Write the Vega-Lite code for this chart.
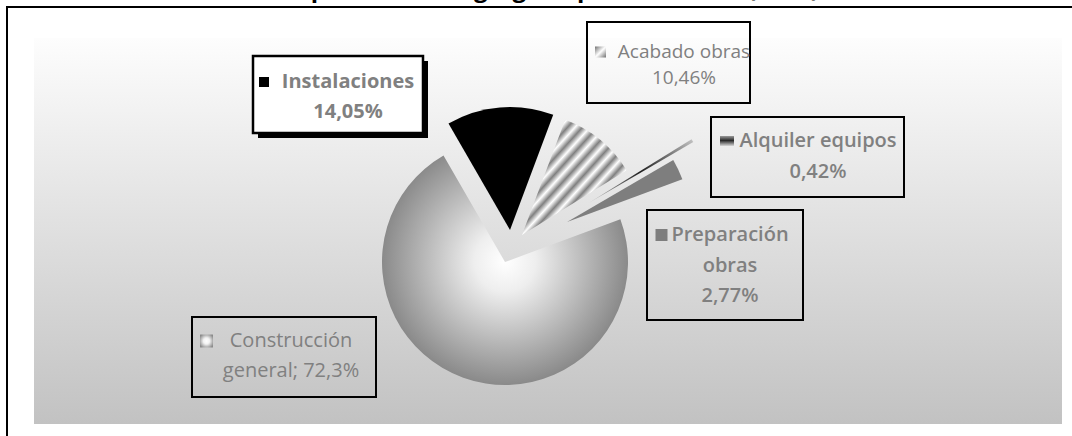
{
  "$schema": "https://vega.github.io/schema/vega-lite/v6.json",
  "width": 1065,
  "height": 429,
  "autosize": {"type": "none"},
  "padding": {"left": 7, "top": 7, "right": 0, "bottom": 0},
  "background": "white",
  "config": {
    "view": {"stroke": null, "fill": "white"},
    "font": "Open Sans"
  },
  "data": {
    "values": [
      {"sector": "Instalaciones", "value": 14.05, "label": "Instalaciones\n14,05%"},
      {"sector": "Acabado obras", "value": 10.46, "label": "Acabado obras\n10,46%"},
      {"sector": "Alquiler equipos", "value": 0.42, "label": "Alquiler equipos\n0,42%"},
      {"sector": "Preparación obras", "value": 2.77, "label": "Preparación\nobras\n2,77%"},
      {"sector": "Construcción general", "value": 72.3, "label": "Construcción\ngeneral; 72,3%"}
    ]
  },
  "transform": [
    {"stack": "value", "groupby": [], "as": ["v0", "v1"]}
  ],
  "layer": [
    {
      "data": {"values": [{}]},
      "mark": {
        "type": "rect", "x": 27, "x2": 1055, "y": 31, "y2": 417,
        "fill": {"gradient": "linear", "x1": 0, "y1": 0, "x2": 0, "y2": 1,
          "stops": [{"offset": 0, "color": "#fdfdfd"}, {"offset": 1, "color": "#c2c2c2"}]}
      },
      "encoding": {}
    },
    {
      "data": {"values": [{}]},
      "mark": {"type": "rect", "x": -1, "x2": 1, "y": -1, "y2": 429, "fill": "black", "stroke": null},
      "encoding": {}
    },
    {
      "data": {"values": [{}]},
      "mark": {"type": "rect", "x": -1, "x2": 1065, "y": -1, "y2": 1, "fill": "black", "stroke": null},
      "encoding": {}
    },
    {
      "data": {"values": [{}]},
      "mark": {"type": "text", "text": "Composición del agregado por subsector (2007)", "x": 531, "y": -10,
        "align": "center", "baseline": "alphabetic", "fontSize": 24, "fontWeight": "bold", "color": "black"},
      "encoding": {}
    },
    {
      "transform": [{"filter": "datum.sector === 'Construcción general'"}],
      "layer": [
        {
          "mark": {
            "type": "arc", "outerRadius": 123, "x": 498, "y": 255,
            "fill": {"gradient": "radial", "x1": 0.5, "y1": 0.464, "r1": 0, "x2": 0.5, "y2": 0.464, "r2": 0.5,
              "stops": [
                {"offset": 0, "color": "#ffffff"},
                {"offset": 0.25, "color": "#eeeeee"},
                {"offset": 0.7, "color": "#b2b2b2"},
                {"offset": 1, "color": "#8a8a8a"}
              ]}
          },
          "encoding": {
            "theta": {"field": "v0", "type": "quantitative", "stack": null, "scale": {"domain": [0, 100], "range": [-0.5236, 5.7596]}},
            "theta2": {"field": "v1"}
          }
        },
        {
          "mark": {"type": "point", "shape": "M-1,-0.4348H1V0.4348H-1Z", "size": 33856, "x": 277, "y": 350,
            "filled": true, "fill": "transparent", "stroke": "black", "strokeWidth": 2, "opacity": 1},
          "encoding": {}
        },
        {
          "mark": {"type": "point", "shape": "square", "size": 169, "x": 199.5, "y": 334,
            "filled": true, "opacity": 1, "stroke": null,
            "fill": {"gradient": "radial", "x1": 0.5, "y1": 0.5, "r1": 0, "x2": 0.5, "y2": 0.5, "r2": 0.6,
              "stops": [{"offset": 0, "color": "#ffffff"}, {"offset": 0.4, "color": "#f2f2f2"}, {"offset": 1, "color": "#8a8a8a"}]}},
          "encoding": {}
        },
        {
          "mark": {"type": "text", "x": 284, "y": 334, "align": "center", "baseline": "middle",
            "lineBreak": "\n", "lineHeight": 30, "fontSize": 20, "fontWeight": 500, "color": "#808080"},
          "encoding": {"text": {"field": "label"}}
        }
      ]
    },
    {
      "transform": [{"filter": "datum.sector === 'Instalaciones'"}],
      "layer": [
        {
          "mark": {"type": "arc", "outerRadius": 123, "x": 503, "y": 223, "fill": "#000000"},
          "encoding": {
            "theta": {"field": "v0", "type": "quantitative", "stack": null, "scale": {"domain": [0, 100], "range": [-0.5236, 5.7596]}},
            "theta2": {"field": "v1"}
          }
        },
        {
          "mark": {"type": "point", "shape": "M-1,-0.4529H1V0.4529H-1Z", "size": 28900, "x": 336, "y": 92.5,
            "filled": true, "fill": "black", "stroke": null, "opacity": 1},
          "encoding": {}
        },
        {
          "mark": {"type": "point", "shape": "M-1,-0.4529H1V0.4529H-1Z", "size": 28900, "x": 331, "y": 87.5,
            "filled": true, "fill": "white", "stroke": "black", "strokeWidth": 2.5, "opacity": 1},
          "encoding": {}
        },
        {
          "mark": {"type": "point", "shape": "square", "size": 100, "x": 257, "y": 75,
            "filled": true, "fill": "black", "stroke": null, "opacity": 1},
          "encoding": {}
        },
        {
          "mark": {"type": "text", "x": 341, "y": 75, "align": "center", "baseline": "middle",
            "lineBreak": "\n", "lineHeight": 30, "fontSize": 20, "fontWeight": "bold", "color": "#808080"},
          "encoding": {"text": {"field": "label"}}
        }
      ]
    },
    {
      "transform": [{"filter": "datum.sector === 'Acabado obras'"}],
      "layer": [
        {
          "mark": {
            "type": "arc", "outerRadius": 123, "x": 515, "y": 228,
            "fill": {"gradient": "linear", "x1": 0, "y1": 0, "x2": 1, "y2": 1,
              "stops": [
                {"offset": 0, "color": "#ffffff"}, {"offset": 0.0357, "color": "#808080"},
                {"offset": 0.0714, "color": "#ffffff"}, {"offset": 0.1071, "color": "#808080"},
                {"offset": 0.1429, "color": "#ffffff"}, {"offset": 0.1786, "color": "#808080"},
                {"offset": 0.2143, "color": "#ffffff"}, {"offset": 0.25, "color": "#808080"},
                {"offset": 0.2857, "color": "#ffffff"}, {"offset": 0.3214, "color": "#808080"},
                {"offset": 0.3571, "color": "#ffffff"}, {"offset": 0.3929, "color": "#808080"},
                {"offset": 0.4286, "color": "#ffffff"}, {"offset": 0.4643, "color": "#808080"},
                {"offset": 0.5, "color": "#ffffff"}, {"offset": 0.5357, "color": "#808080"},
                {"offset": 0.5714, "color": "#ffffff"}, {"offset": 0.6071, "color": "#808080"},
                {"offset": 0.6429, "color": "#ffffff"}, {"offset": 0.6786, "color": "#808080"},
                {"offset": 0.7143, "color": "#ffffff"}, {"offset": 0.75, "color": "#808080"},
                {"offset": 0.7857, "color": "#ffffff"}, {"offset": 0.8214, "color": "#808080"},
                {"offset": 0.8571, "color": "#ffffff"}, {"offset": 0.8929, "color": "#808080"},
                {"offset": 0.9286, "color": "#ffffff"}, {"offset": 0.9643, "color": "#808080"},
                {"offset": 1, "color": "#ffffff"}
              ]}
          },
          "encoding": {
            "theta": {"field": "v0", "type": "quantitative", "stack": null, "scale": {"domain": [0, 100], "range": [-0.5236, 5.7596]}},
            "theta2": {"field": "v1"}
          }
        },
        {
          "mark": {"type": "point", "shape": "M-1,-0.4969H1V0.4969H-1Z", "size": 26569, "x": 661.5, "y": 55.5,
            "filled": true, "fill": "transparent", "stroke": "black", "strokeWidth": 2, "opacity": 1},
          "encoding": {}
        },
        {
          "mark": {"type": "point", "shape": "square", "size": 121, "x": 593.5, "y": 45,
            "filled": true, "opacity": 1, "stroke": null,
            "fill": {"gradient": "linear", "x1": 0, "y1": 0, "x2": 1, "y2": 1,
              "stops": [{"offset": 0, "color": "#707070"}, {"offset": 0.5, "color": "#ffffff"}, {"offset": 1, "color": "#707070"}]}},
          "encoding": {}
        },
        {
          "mark": {"type": "text", "x": 677, "y": 45, "align": "center", "baseline": "middle",
            "lineBreak": "\n", "lineHeight": 26, "fontSize": 19, "fontWeight": "normal", "color": "#808080"},
          "encoding": {"text": {"field": "label"}}
        }
      ]
    },
    {
      "transform": [{"filter": "datum.sector === 'Alquiler equipos'"}],
      "layer": [
        {
          "mark": {
            "type": "arc", "outerRadius": 123, "x": 580, "y": 197,
            "fill": {"gradient": "linear", "x1": 0, "y1": 1, "x2": 1, "y2": 0,
              "stops": [{"offset": 0, "color": "#d8d8d8"}, {"offset": 0.5, "color": "#1e1e1e"}, {"offset": 1, "color": "#c4c4c4"}]}
          },
          "encoding": {
            "theta": {"field": "v0", "type": "quantitative", "stack": null, "scale": {"domain": [0, 100], "range": [-0.5236, 5.7596]}},
            "theta2": {"field": "v1"}
          }
        },
        {
          "mark": {"type": "point", "shape": "M-1,-0.4145H1V0.4145H-1Z", "size": 37249, "x": 800.5, "y": 150,
            "filled": true, "fill": "transparent", "stroke": "black", "strokeWidth": 2, "opacity": 1},
          "encoding": {}
        },
        {
          "mark": {"type": "point", "shape": "M-1,-0.714H1V0.714H-1Z", "size": 196, "x": 720, "y": 134,
            "filled": true, "opacity": 1, "stroke": null,
            "fill": {"gradient": "linear", "x1": 0, "y1": 0, "x2": 0, "y2": 1,
              "stops": [{"offset": 0, "color": "#9a9a9a"}, {"offset": 0.45, "color": "#2a2a2a"}, {"offset": 1, "color": "#d8d8d8"}]}},
          "encoding": {}
        },
        {
          "mark": {"type": "text", "x": 811, "y": 134, "align": "center", "baseline": "middle",
            "lineBreak": "\n", "lineHeight": 31, "fontSize": 20, "fontWeight": 600, "color": "#808080"},
          "encoding": {"text": {"field": "label"}}
        }
      ]
    },
    {
      "transform": [{"filter": "datum.sector === 'Preparación obras'"}],
      "layer": [
        {
          "mark": {"type": "arc", "outerRadius": 123, "x": 560, "y": 215, "fill": "#7e7e7e"},
          "encoding": {
            "theta": {"field": "v0", "type": "quantitative", "stack": null, "scale": {"domain": [0, 100], "range": [-0.5236, 5.7596]}},
            "theta2": {"field": "v1"}
          }
        },
        {
          "mark": {"type": "point", "shape": "M-1,-0.7051H1V0.7051H-1Z", "size": 24336, "x": 718, "y": 258,
            "filled": true, "fill": "transparent", "stroke": "black", "strokeWidth": 2, "opacity": 1},
          "encoding": {}
        },
        {
          "mark": {"type": "point", "shape": "square", "size": 144, "x": 654.5, "y": 228,
            "filled": true, "fill": "#7e7e7e", "stroke": null, "opacity": 1},
          "encoding": {}
        },
        {
          "mark": {"type": "text", "x": 723, "y": 228, "align": "center", "baseline": "middle",
            "lineBreak": "\n", "lineHeight": 30.5, "fontSize": 20, "fontWeight": 600, "color": "#808080"},
          "encoding": {"text": {"field": "label"}}
        }
      ]
    }
  ]
}
